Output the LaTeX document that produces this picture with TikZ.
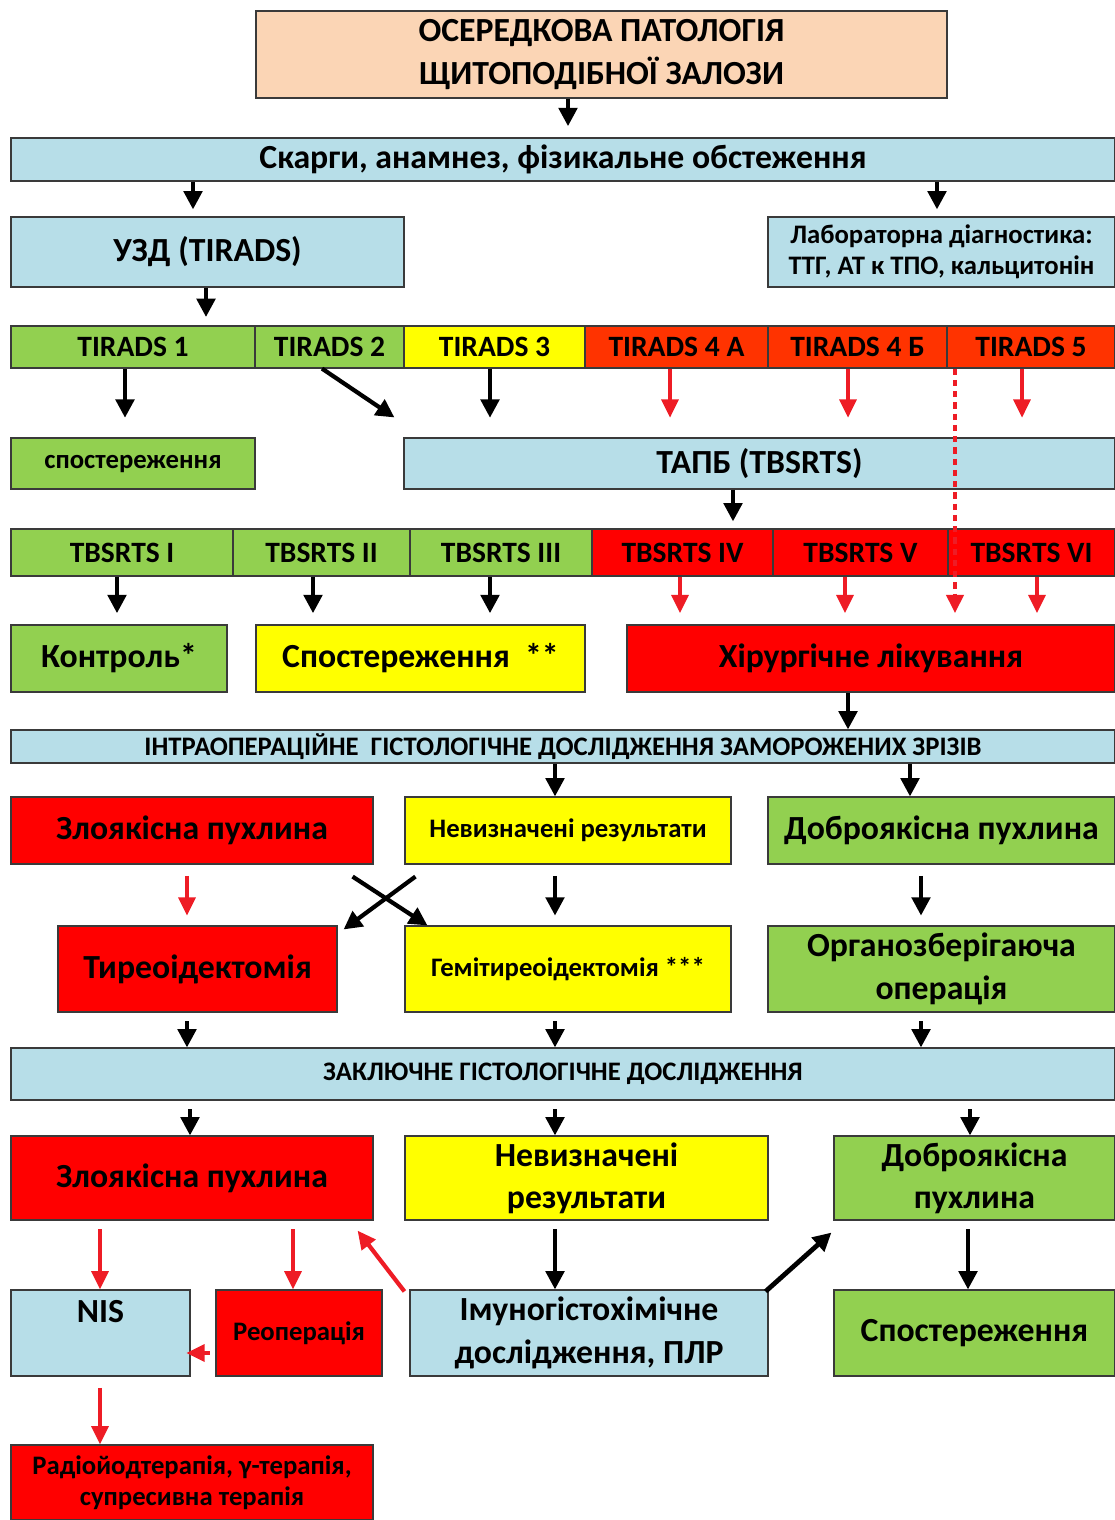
\documentclass[tikz,border=0pt]{standalone}
\usepackage{fontspec}
\setmainfont{Carlito}
\usetikzlibrary{arrows.meta, calc}
\definecolor{peachfill}{HTML}{FBD5B5}
\definecolor{skyfill}{HTML}{B7DEE8}
\definecolor{leaffill}{HTML}{92D050}
\definecolor{lemonfill}{HTML}{FFFF00}
\definecolor{firefill}{HTML}{FF0000}
\definecolor{flamefill}{HTML}{FF3300}
\definecolor{edgegray}{HTML}{3A3A3A}
\definecolor{arrowred}{HTML}{EE1C25}

\tikzset{
  cell/.style={draw=edgegray, line width=0.8pt, inner sep=0pt, align=center},
  span/.style n args={4}{at={($(#1,#2)!0.5!(#3,#4)$)},
    minimum width={(#3-#1)*0.025cm}, minimum height={(#4-#2)*0.025cm}},
  fsz/.style 2 args={font=\fontsize{#1}{#2}\selectfont\bfseries},
  arr/.style={-{Triangle[length=13pt,width=13pt]}, line width=3pt},
  redarr/.style={-{Triangle[length=13pt,width=12pt]}, line width=2.6pt, arrowred},
}

\begin{document}
\begin{tikzpicture}[x=0.025cm, y=-0.025cm]
  \useasboundingbox (0,0) rectangle (1115,1520);
  \fill[white] (0,0) rectangle (1115,1520);

  % Header and complaints
  \node[cell, fill=peachfill, span={256}{11}{947}{98}, fsz={24}{30}] (title) {ОСЕРЕДКОВА ПАТОЛОГІЯ\\ЩИТОПОДІБНОЇ ЗАЛОЗИ};
  \node[cell, fill=skyfill, span={11}{138}{1115}{181}, fsz={24}{28}] (complaints) {Скарги, анамнез, фізикальне обстеження};
  \node[cell, fill=skyfill, span={11}{217}{404}{287}, fsz={24}{28}] (usd) {УЗД (TIRADS)};
  \node[cell, fill=skyfill, span={768}{217}{1115}{287}, fsz={19}{22}] (lab) {Лабораторна діагностика:\\ТТГ, АТ к ТПО, кальцитонін};

  % TIRADS row
  \node[cell, fill=leaffill, span={11}{326}{255}{368}, fsz={21}{24}] (t1) {TIRADS 1};
  \node[cell, fill=leaffill, span={255}{326}{404}{368}, fsz={21}{24}] (t2) {TIRADS 2};
  \node[cell, fill=lemonfill, span={404}{326}{585}{368}, fsz={21}{24}] (t3) {TIRADS 3};
  \node[cell, fill=flamefill, span={585}{326}{768}{368}, fsz={21}{24}] (t4a) {TIRADS 4 A};
  \node[cell, fill=flamefill, span={768}{326}{947}{368}, fsz={21}{24}] (t4b) {TIRADS 4 Б};
  \node[cell, fill=flamefill, span={947}{326}{1115}{368}, fsz={21}{24}] (t5) {TIRADS 5};

  \node[cell, fill=leaffill, span={11}{438}{255}{489}, fsz={19}{22}] (obs1) {спостереження};
  \node[cell, fill=skyfill, span={404}{438}{1115}{489}, fsz={24}{28}] (tapb) {ТАПБ (TBSRTS)};

  % TBSRTS row
  \node[cell, fill=leaffill, span={11}{529}{233}{576}, fsz={21}{24}] (b1) {TBSRTS I};
  \node[cell, fill=leaffill, span={233}{529}{410}{576}, fsz={21}{24}] (b2) {TBSRTS II};
  \node[cell, fill=leaffill, span={410}{529}{592}{576}, fsz={21}{24}] (b3) {TBSRTS III};
  \node[cell, fill=firefill, span={592}{529}{773}{576}, fsz={21}{24}] (b4) {TBSRTS IV};
  \node[cell, fill=firefill, span={773}{529}{948}{576}, fsz={21}{24}] (b5) {TBSRTS V};
  \node[cell, fill=firefill, span={948}{529}{1115}{576}, fsz={21}{24}] (b6) {TBSRTS VI};

  \node[cell, fill=leaffill, span={11}{625}{227}{692}, fsz={24}{28}] (control) {Контроль*};
  \node[cell, fill=lemonfill, span={256}{625}{585}{692}, fsz={24}{28}] (watch) {Спостереження~~**};
  \node[cell, fill=firefill, span={627}{625}{1115}{692}, fsz={24}{28}] (surgery) {Хірургічне лікування};

  % Intraoperative stage
  \node[cell, fill=skyfill, span={11}{730}{1115}{763}, fsz={19}{22}] (intra) {ІНТРАОПЕРАЦІЙНЕ~ ГІСТОЛОГІЧНЕ ДОСЛІДЖЕННЯ ЗАМОРОЖЕНИХ ЗРІЗІВ};
  \node[cell, fill=firefill, span={11}{797}{373}{864}, fsz={24}{28}] (malig1) {Злоякісна пухлина};
  \node[cell, fill=lemonfill, span={405}{797}{731}{864}, fsz={19}{22}] (indet1) {Невизначені результати};
  \node[cell, fill=leaffill, span={768}{797}{1115}{864}, fsz={24}{28}] (benign1) {Доброякісна пухлина};
  \node[cell, fill=firefill, span={58}{926}{337}{1012}, fsz={24}{28}] (thyr) {Тиреоідектомія};
  \node[cell, fill=lemonfill, span={405}{926}{731}{1012}, fsz={19}{22}] (hemi) {Гемітиреоідектомія ***};
  \node[cell, fill=leaffill, span={768}{926}{1115}{1012}, fsz={24}{31}] (organ) {Органозберігаюча\\операція};

  % Final histology
  \node[cell, fill=skyfill, span={11}{1048}{1115}{1100}, fsz={19}{22}] (final) {ЗАКЛЮЧНЕ ГІСТОЛОГІЧНЕ ДОСЛІДЖЕННЯ};
  \node[cell, fill=firefill, span={11}{1136}{373}{1220}, fsz={24}{28}] (malig2) {Злоякісна пухлина};
  \node[cell, fill=lemonfill, span={405}{1136}{768}{1220}, fsz={24}{30}] (indet2) {Невизначені\\результати};
  \node[cell, fill=leaffill, span={834}{1136}{1115}{1220}, fsz={24}{30}] (benign2) {Доброякісна\\пухлина};
  \node[cell, fill=skyfill, span={11}{1290}{190}{1376}, fsz={24}{24}] (nis) {NIS\\\strut};
  \node[cell, fill=firefill, span={216}{1290}{382}{1376}, fsz={19}{22}] (reop) {Реоперація};
  \node[cell, fill=skyfill, span={410}{1290}{768}{1376}, fsz={24}{31}] (immuno) {Імуногістохімічне\\дослідження, ПЛР};
  \node[cell, fill=leaffill, span={834}{1290}{1115}{1376}, fsz={24}{28}] (obs2) {Спостереження};
  \node[cell, fill=firefill, span={11}{1445}{373}{1520}, fsz={19}{22}] (radio) {Радіойодтерапія, γ-терапія,\\супресивна терапія};

  % Arrows: top part
  \draw[arr, shorten >=8pt] (title.south -| 568,0) -- (complaints.north -| 568,0);
  \draw[arr, shorten >=5pt] (complaints.south -| 193,0) -- (usd.north -| 193,0);
  \draw[arr, shorten >=5pt] (complaints.south -| 937,0) -- (lab.north -| 937,0);
  \draw[arr, shorten >=6pt] (usd.south -| 206,0) -- (t1.north -| 206,0);

  % Arrows: TIRADS
  \draw[arr, shorten >=14pt] (t1.south -| 125,0) -- (obs1.north -| 125,0);
  \draw[arr] (t2.south -| 322,0) -- ($(tapb.north west)+(-9,-20)$);
  \draw[arr, shorten >=14pt] (t3.south -| 490,0) -- (tapb.north -| 490,0);
  \draw[redarr, shorten >=14pt] (t4a.south -| 670,0) -- (tapb.north -| 670,0);
  \draw[redarr, shorten >=14pt] (t4b.south -| 848,0) -- (tapb.north -| 848,0);
  \draw[redarr, shorten >=14pt] (t5.south -| 1022,0) -- (tapb.north -| 1022,0);
  \draw[arr, shorten >=5pt] (tapb.south -| 733,0) -- (b4.north -| 733,0);

  % Arrows: TBSRTS
  \draw[arr, shorten >=8pt] (b1.south -| 117,0) -- (control.north -| 117,0);
  \draw[arr, shorten >=8pt] (b2.south -| 313,0) -- (watch.north -| 313,0);
  \draw[arr, shorten >=8pt] (b3.south -| 490,0) -- (watch.north -| 490,0);
  \draw[redarr, shorten >=8pt] (b4.south -| 680,0) -- (surgery.north -| 680,0);
  \draw[redarr, shorten >=8pt] (b5.south -| 845,0) -- (surgery.north -| 845,0);
  \draw[redarr, shorten >=8pt] (b6.south -| 1037,0) -- (surgery.north -| 1037,0);
  \draw[redarr, line width=3pt, dash pattern=on 4.5pt off 3.5pt, shorten >=8pt] (t5.south -| 955,0) -- (surgery.north -| 955,0);

  % Arrows: intraoperative
  \draw[arr] (surgery.south -| 848,0) -- (intra.north -| 848,0);
  \draw[arr] (intra.south -| 555,0) -- (indet1.north -| 555,0);
  \draw[arr] (intra.south -| 910,0) -- (benign1.north -| 910,0);
  \draw[redarr, shorten <=8pt, shorten >=7pt] (malig1.south -| 187,0) -- (thyr.north -| 187,0);
  \draw[arr] ($(malig1.south east)+(-21,12)$) -- ($(hemi.north west)+(23,0)$);
  \draw[arr] ($(indet1.south west)+(11,12)$) -- ($(thyr.north east)+(6,4)$);
  \draw[arr, shorten <=8pt, shorten >=7pt] (indet1.south -| 555,0) -- (hemi.north -| 555,0);
  \draw[arr, shorten <=8pt, shorten >=7pt] (benign1.south -| 921,0) -- (organ.north -| 921,0);
  \draw[arr, shorten <=6pt] (thyr.south -| 187,0) -- (final.north -| 187,0);
  \draw[arr, shorten <=6pt] (hemi.south -| 555,0) -- (final.north -| 555,0);
  \draw[arr, shorten <=6pt] (organ.south -| 921,0) -- (final.north -| 921,0);

  % Arrows: final histology
  \draw[arr, shorten <=6pt] (final.south -| 190,0) -- (malig2.north -| 190,0);
  \draw[arr, shorten <=6pt] (final.south -| 555,0) -- (indet2.north -| 555,0);
  \draw[arr, shorten <=6pt] (final.south -| 970,0) -- (benign2.north -| 970,0);
  \draw[redarr, shorten <=6pt] (malig2.south -| 100,0) -- (nis.north -| 100,0);
  \draw[redarr, shorten <=6pt] (malig2.south -| 293,0) -- (reop.north -| 293,0);
  \draw[redarr, line width=3pt] ($(immuno.north west)+(-5,2)$) -- ($(malig2.south east)+(-16,10)$);
  \draw[arr, shorten <=6pt] (indet2.south -| 555,0) -- (immuno.north -| 555,0);
  \draw[arr, shorten <=6pt] (benign2.south -| 968,0) -- (obs2.north -| 968,0);
  \draw[arr, line width=3.4pt] ($(immuno.north east)+(-3,2)$) -- ($(benign2.south west)+(-2,12)$);
  \draw[redarr, shorten <=4pt, shorten >=-3pt] (reop.west |- 0,1353) -- (nis.east |- 0,1353);
  \draw[redarr, shorten <=8pt] (nis.south -| 100,0) -- (radio.north -| 100,0);
\end{tikzpicture}
\end{document}
